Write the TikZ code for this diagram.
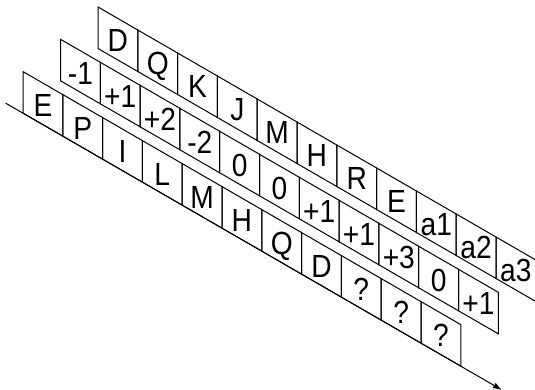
\documentclass[tikz,border=0pt]{standalone}
\usepackage{fontspec}
\setmainfont{Liberation Sans}[FakeStretch=0.88]
\usetikzlibrary{arrows.meta}

\tikzset{
  cell/.style={draw, line width=1pt},
  sym/.style={font=\fontsize{32}{32}\selectfont, inner sep=0pt, text height=22.9pt, text depth=0pt}
}

\begin{document}
\begin{tikzpicture}[x=1pt, y=-1pt, line width=1pt]
  \useasboundingbox (0,0) rectangle (535,389);

  % top row
  \foreach \lab [count=\i from 0] in {D,Q,K,J,M,H,R,E,a1,a2,a3} {
    \draw[cell] (98+39.8*\i, 7+23*\i) -- ++(39.8,23) -- ++(0,41.5) -- ++(-39.8,-23) -- cycle;
    \node[sym] (top\i) at (117.9+39.8*\i, 40.5+23*\i) {\lab};
  }

  % middle row
  \foreach \lab [count=\i from 0] in {-1,+1,+2,-2,0,0,+1,+1,+3,0,+1} {
    \draw[cell] (60.5+39.8*\i, 39.3+23*\i) -- ++(39.8,23) -- ++(0,41.5) -- ++(-39.8,-23) -- cycle;
    \node[sym] (mid\i) at (80.4+39.8*\i, 73.5+23*\i) {\lab};
  }

  % bottom row
  \foreach \lab [count=\i from 0] in {E,P,I,L,M,H,Q,D,?,?,?} {
    \draw[cell] (23+39.8*\i, 71.6+23*\i) -- ++(39.8,23) -- ++(0,41.5) -- ++(-39.8,-23) -- cycle;
    \node[sym] (bot\i) at (42.9+39.8*\i, 105.2+23*\i) {\lab};
  }

  % time axis under the bottom row
  \coordinate (tail) at (5.7,103.2);
  \coordinate (head) at (502,390);
  \draw[-{Latex[length=9pt,width=6pt]}] (tail) -- (head);
\end{tikzpicture}
\end{document}
